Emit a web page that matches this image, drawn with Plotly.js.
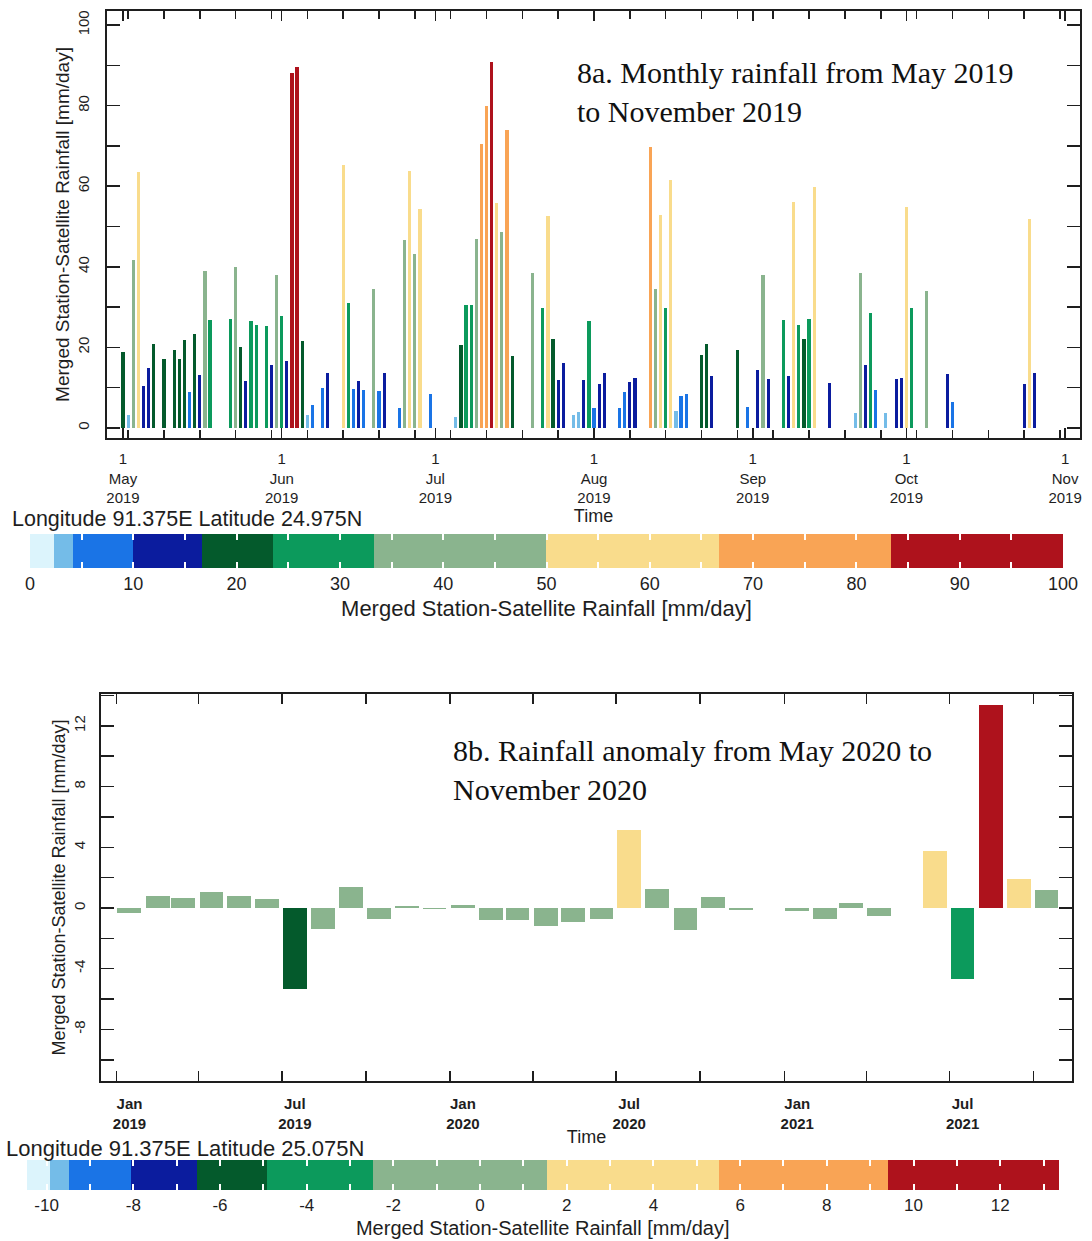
<!DOCTYPE html>
<html>
<head>
<meta charset="utf-8">
<script src="https://cdn.plot.ly/plotly-3.0.1.min.js"></script>
<style>html,body{margin:0;padding:0;background:#fff}#chart{width:1092px;height:1241px}</style>
</head>
<body>
<div id="chart"></div>
<script>
// ---------- DATA: panel 8a (daily rainfall, mm/day) ----------
const dailyDates = [
 '2019-05-01','2019-05-02','2019-05-03','2019-05-04','2019-05-05','2019-05-06','2019-05-07','2019-05-09',
 '2019-05-11','2019-05-12','2019-05-13','2019-05-14','2019-05-15','2019-05-16','2019-05-17','2019-05-18',
 '2019-05-22','2019-05-23','2019-05-24','2019-05-25','2019-05-26','2019-05-27','2019-05-29','2019-05-30',
 '2019-05-31','2019-06-01','2019-06-02','2019-06-03','2019-06-04','2019-06-05','2019-06-06','2019-06-07',
 '2019-06-09','2019-06-10','2019-06-13','2019-06-14','2019-06-15','2019-06-16','2019-06-17','2019-06-19',
 '2019-06-20','2019-06-21','2019-06-24','2019-06-25','2019-06-26','2019-06-27','2019-06-28','2019-06-30',
 '2019-07-05','2019-07-06','2019-07-07','2019-07-08','2019-07-09','2019-07-10','2019-07-11','2019-07-12',
 '2019-07-13','2019-07-14','2019-07-15','2019-07-16','2019-07-20','2019-07-22','2019-07-23','2019-07-24',
 '2019-07-25','2019-07-26','2019-07-28','2019-07-29','2019-07-30','2019-07-31','2019-08-01','2019-08-02',
 '2019-08-03','2019-08-06','2019-08-07','2019-08-08','2019-08-09','2019-08-12','2019-08-13','2019-08-14',
 '2019-08-15','2019-08-16','2019-08-17','2019-08-18','2019-08-19','2019-08-22','2019-08-23','2019-08-24',
 '2019-08-29','2019-08-31','2019-09-02','2019-09-03','2019-09-04','2019-09-07','2019-09-08','2019-09-09',
 '2019-09-10','2019-09-11','2019-09-12','2019-09-13','2019-09-16','2019-09-21','2019-09-22','2019-09-23',
 '2019-09-24','2019-09-25','2019-09-27','2019-09-29','2019-09-30','2019-10-01','2019-10-02','2019-10-05',
 '2019-10-09','2019-10-10','2019-10-24','2019-10-25','2019-10-26'
];
const dailyRain = [
 18.9, 3.3, 41.6, 63.5, 10.4, 14.9, 20.9, 17.2,
 19.3, 17.0, 21.8, 8.8, 23.2, 13.2, 38.9, 26.7,
 27.1, 40.0, 20.0, 11.7, 26.5, 25.6, 25.2, 15.7,
 38.0, 27.7, 16.5, 88.1, 89.6, 21.6, 3.3, 5.6,
 9.8, 13.6, 65.3, 30.9, 9.6, 11.7, 9.3, 34.5,
 9.2, 13.6, 5.0, 46.6, 63.9, 43.3, 54.4, 8.5,
 2.7, 20.5, 30.6, 30.6, 47.0, 70.6, 80.0, 90.8,
 55.8, 48.6, 74.0, 17.8, 38.5, 29.8, 52.5, 22.2,
 11.8, 16.2, 3.1, 4.0, 11.8, 26.6, 5.0, 11.0,
 13.6, 5.0, 8.8, 11.4, 12.5, 69.7, 34.5, 52.9,
 29.8, 61.5, 4.1, 7.9, 8.4, 18.0, 20.9, 12.9,
 19.3, 5.2, 14.5, 38.0, 12.1, 26.7, 12.9, 56.1,
 25.6, 22.0, 27.1, 59.8, 11.2, 3.8, 38.5, 15.7,
 28.5, 9.3, 3.6, 12.1, 12.4, 54.8, 29.8, 34.1,
 13.3, 6.5, 10.8, 51.9, 13.7
];
const dailyTickDates = ['2019-05-01','2019-06-01','2019-07-01','2019-08-01','2019-09-01','2019-10-01','2019-11-01'];
const dailyTickText = ['1<br>May<br>2019','1<br>Jun<br>2019','1<br>Jul<br>2019','1<br>Aug<br>2019','1<br>Sep<br>2019','1<br>Oct<br>2019','1<br>Nov<br>2019'];
const rainYTicks = [0,10,20,30,40,50,60,70,80,90,100];
const rainYText = ['0','','20','','40','','60','','80','','100'];
const rainLevels = [0, 2.3, 4.2, 10, 16.67, 23.5, 33.33, 50, 66.67, 83.33, 100];
const rainBarTicks = [0,5,10,15,20,25,30,35,40,45,50,55,60,65,70,75,80,85,90,95,100];
const rainBarText = ['0','','10','','20','','30','','40','','50','','60','','70','','80','','90','','100'];

// ---------- DATA: panel 8b (monthly anomaly, mm/day) ----------
const anomMonths = [
 '2019-01','2019-02','2019-03','2019-04','2019-05','2019-06','2019-07','2019-08','2019-09','2019-10','2019-11','2019-12',
 '2020-01','2020-02','2020-03','2020-04','2020-05','2020-06','2020-07','2020-08','2020-09','2020-10','2020-11','2020-12',
 '2021-01','2021-02','2021-03','2021-04','2021-05','2021-06','2021-07','2021-08','2021-09','2021-10'
];
const anomValues = [
 -0.35, 0.77, 0.66, 1.07, 0.77, 0.59, -5.33, -1.36, 1.36, -0.72, 0.13, -0.05,
 0.20, -0.81, -0.81, -1.20, -0.92, -0.72, 5.15, 1.27, -1.47, 0.70, -0.15, -0.03,
 -0.22, -0.72, 0.33, -0.50, null, 3.77, -4.70, 13.40, 1.93, 1.16
];
const anomTickDates = ['2019-01-01','2019-04-01','2019-07-01','2019-10-01','2020-01-01','2020-04-01','2020-07-01','2020-10-01','2021-01-01','2021-04-01','2021-07-01','2021-10-01'];
const anomTickText = ['Jan<br>2019','','Jul<br>2019','','Jan<br>2020','','Jul<br>2020','','Jan<br>2021','','Jul<br>2021',''];
const anomYTicks = [-10,-8,-6,-4,-2,0,2,4,6,8,10,12,14];
const anomYText = ['','-8','','-4','','0','','4','','8','','12',''];
const anomLevels = [-10.46, -9.94, -9.5, -8.06, -6.54, -4.92, -2.48, 1.54, 5.5, 9.4, 13.35];
const anomBarTicks = [-10,-9,-8,-7,-6,-5,-4,-3,-2,-1,0,1,2,3,4,5,6,7,8,9,10,11,12,13];
const anomBarText = ['-10','','-8','','-6','','-4','','-2','','0','','2','','4','','6','','8','','10','','12',''];

const levelColors = ['#dcf4fc','#74bce8','#1a74e6','#0b1c9e','#045a2c','#0c9a5c','#8ab48e','#f9dc8c','#f9a455','#ae121c'];

// ---------- helpers ----------
const W = 1092, H = 1241;
const px = x => x / W;
const py = y => 1 - y / H;
const DAY = 86400000;
const SANS = 'Liberation Sans, Arial, sans-serif';
const SERIF = 'Liberation Serif, Times New Roman, serif';
const INK = '#1e1e1e';

function stepScale(levels, colors) {
  const lo = levels[0], hi = levels[levels.length - 1];
  const s = [];
  colors.forEach((c, i) => {
    s.push([(levels[i] - lo) / (hi - lo), c]);
    s.push([(levels[i + 1] - lo) / (hi - lo), c]);
  });
  s[0][0] = 0; s[s.length - 1][0] = 1;
  return s;
}
const clear = levelColors.map(() => 'rgba(255,255,255,0)');

// real colour bar (labels + title below)
function cbar(x0, len, yTop, thick, tickvals, ticktext, labelSize, titleSize) {
  return {
    orientation: 'h', lenmode: 'pixels', len: len, thicknessmode: 'pixels', thickness: thick,
    x: px(x0), xanchor: 'left', y: py(yTop), yanchor: 'top', xpad: 0, ypad: 0,
    outlinewidth: 0, tickmode: 'array', tickvals: tickvals, ticktext: ticktext,
    ticks: '', tickfont: {family: SANS, size: labelSize, color: INK},
    title: {text: 'Merged Station-Satellite Rainfall [mm/day]', side: 'bottom', font: {family: SANS, size: titleSize, color: INK}}
  };
}
// transparent overlay bar that only contributes white level dashes along one edge
function dashBar(levels, x0, len, yTop, thick, tickvals, xa, ya) {
  const lo = levels[0], hi = levels[levels.length - 1];
  return {
    type: 'scatter', mode: 'markers', x: [null], y: [null], xaxis: xa, yaxis: ya, hoverinfo: 'skip',
    marker: {color: [lo], colorscale: stepScale(levels, clear), cmin: lo, cmax: hi, showscale: true,
      colorbar: {
        orientation: 'h', lenmode: 'pixels', len: len, thicknessmode: 'pixels', thickness: thick,
        x: px(x0), xanchor: 'left', y: py(yTop), yanchor: 'top', xpad: 0, ypad: 0,
        outlinewidth: 0, tickmode: 'array', tickvals: tickvals, showticklabels: false,
        ticks: 'inside', ticklen: 6, tickwidth: 2, tickcolor: '#ffffff'
      }}
  };
}

const rainScale = stepScale(rainLevels, levelColors);
const anomScale = stepScale(anomLevels, levelColors);
const rMin = rainLevels[0], rMax = rainLevels[rainLevels.length - 1];
const aMin = anomLevels[0], aMax = anomLevels[anomLevels.length - 1];

// colour-bar geometry (page pixels)
const CB1 = {x0: 30, len: 1033, top: 534, thick: 34};
const CB2 = {x0: 26.7, len: 1031.6, top: 1160, thick: 30};

const traces = [
  {
    type: 'bar', x: dailyDates, y: dailyRain, xaxis: 'x', yaxis: 'y',
    width: 0.62 * DAY, hoverinfo: 'skip',
    marker: {color: dailyRain, colorscale: rainScale, cmin: rMin, cmax: rMax, line: {width: 0},
      showscale: true, colorbar: cbar(CB1.x0, CB1.len, CB1.top, CB1.thick, rainBarTicks, rainBarText, 18, 22)}
  },
  {
    type: 'bar', x: anomMonths.map(m => m + '-15'), y: anomValues, xaxis: 'x2', yaxis: 'y2',
    width: 26 * DAY, hoverinfo: 'skip',
    marker: {color: anomValues, colorscale: anomScale, cmin: aMin, cmax: aMax, line: {width: 0},
      showscale: true, colorbar: cbar(CB2.x0, CB2.len, CB2.top, CB2.thick, anomBarTicks, anomBarText, 17, 20)}
  },
  dashBar(rainLevels, CB1.x0, CB1.len, CB1.top, CB1.thick, rainBarTicks, 'x', 'y'),
  dashBar(rainLevels, CB1.x0, CB1.len, CB1.top, 6, rainBarTicks, 'x', 'y'),
  dashBar(anomLevels, CB2.x0, CB2.len, CB2.top, CB2.thick, anomBarTicks, 'x2', 'y2'),
  dashBar(anomLevels, CB2.x0, CB2.len, CB2.top, 6, anomBarTicks, 'x2', 'y2')
];

const axisCommon = {
  showline: true, linewidth: 2, linecolor: INK, showgrid: false, zeroline: false,
  ticks: 'inside', tickcolor: INK, tickwidth: 1.5, mirror: 'allticks'
};

const layout = {
  width: W, height: H, margin: {l: 0, r: 0, t: 0, b: 0, pad: 0},
  paper_bgcolor: '#ffffff', plot_bgcolor: '#ffffff', showlegend: false, bargap: 0,
  font: {family: SANS, color: INK},
  xaxis: Object.assign({}, axisCommon, {
    domain: [px(107), px(1080)], anchor: 'y', type: 'date',
    range: ['2019-04-27 21:00', '2019-11-03 22:00'],
    tickmode: 'array', tickvals: dailyTickDates, ticktext: dailyTickText, ticklen: 10,
    tickangle: 0, ticklabelstandoff: 6,
    tickfont: {family: SANS, size: 15, color: INK},
    minor: {tick0: '2019-05-02', dtick: 7 * DAY, ticks: 'inside', ticklen: 8, tickcolor: INK, tickwidth: 1.5, showgrid: false},
    title: {text: 'Time', font: {family: SANS, size: 18, color: INK}, standoff: 0}
  }),
  yaxis: Object.assign({}, axisCommon, {
    domain: [py(438), py(11)], anchor: 'x', range: [-2.5, 103.5],
    tickmode: 'array', tickvals: rainYTicks, ticktext: rainYText, ticklen: 13,
    tickangle: -90, ticklabelstandoff: 10,
    tickfont: {family: SANS, size: 15, color: INK},
    title: {text: 'Merged Station-Satellite Rainfall [mm/day]', font: {family: SANS, size: 19, color: INK}, standoff: 0}
  }),
  xaxis2: Object.assign({}, axisCommon, {
    domain: [px(101), px(1072)], anchor: 'y2', type: 'date',
    range: ['2018-12-15', '2021-11-12'],
    tickmode: 'array', tickvals: anomTickDates, ticktext: anomTickText, ticklen: 10,
    tickangle: 0, ticklabelshift: 13, ticklabelstandoff: 8,
    tickfont: {family: SANS, size: 15, color: INK, weight: 'bold'},
    title: {text: 'Time', font: {family: SANS, size: 18, color: INK}, standoff: 0}
  }),
  yaxis2: Object.assign({}, axisCommon, {
    domain: [py(1081), py(694)], anchor: 'x2', range: [-11.4, 14.1],
    tickmode: 'array', tickvals: anomYTicks, ticktext: anomYText, ticklen: 13,
    tickangle: -90, ticklabelstandoff: 8,
    tickfont: {family: SANS, size: 15, color: INK},
    title: {text: 'Merged Station-Satellite Rainfall [mm/day]', font: {family: SANS, size: 18, color: INK}, standoff: 1}
  }),
  annotations: [
    {xref: 'paper', yref: 'paper', x: px(575), y: py(92.5), xanchor: 'left', yanchor: 'middle', align: 'left',
     showarrow: false, text: '8a. Monthly rainfall from May 2019<br>to November 2019',
     font: {family: SERIF, size: 30, color: '#111'}},
    {xref: 'paper', yref: 'paper', x: px(451), y: py(769.5), xanchor: 'left', yanchor: 'middle', align: 'left',
     showarrow: false, text: '8b. Rainfall anomaly from May 2020 to<br>November 2020',
     font: {family: SERIF, size: 30, color: '#111'}},
    {xref: 'paper', yref: 'paper', x: px(10), y: py(519), xanchor: 'left', yanchor: 'middle',
     showarrow: false, text: 'Longitude 91.375E Latitude 24.975N',
     font: {family: SANS, size: 21.5, color: INK}},
    {xref: 'paper', yref: 'paper', x: px(4), y: py(1148), xanchor: 'left', yanchor: 'middle',
     showarrow: false, text: 'Longitude 91.375E Latitude 25.075N',
     font: {family: SANS, size: 22, color: INK}}
  ]
};

Plotly.newPlot('chart', traces, layout, {staticPlot: true, displayModeBar: false});
</script>
</body>
</html>
